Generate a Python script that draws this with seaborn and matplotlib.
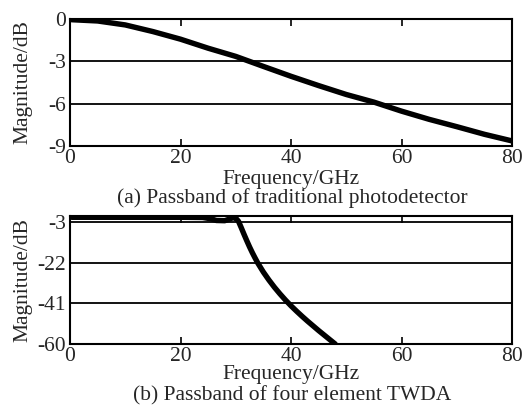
import numpy as np
import pandas as pd
import matplotlib
matplotlib.use("Agg")
import matplotlib.pyplot as plt
import seaborn as sns

# ---- data ----
freq_a = [0.3, 5, 10, 15, 20, 25, 30, 35, 40, 45, 50, 55, 60, 65, 70, 75, 80]
mag_a = [-0.05, -0.14, -0.42, -0.89, -1.43, -2.07, -2.65, -3.36, -4.06, -4.72,
         -5.35, -5.89, -6.53, -7.11, -7.63, -8.17, -8.64]

freq_b = [0.3, 5, 10, 15, 20, 24, 25.5, 26.5, 28, 29, 29.6, 30.0, 30.5, 31.0,
          31.5, 32.0, 32.5, 33.0, 33.5, 34.0, 35.0, 36.0, 37.0, 38.0, 39.0,
          40.0, 41.0, 42.0, 43.0, 44.0, 45.0, 46.0, 47.0, 48.0]
mag_b = [-0.6, -0.6, -0.6, -0.6, -0.6, -0.7, -1.3, -2.1, -2.2, -1.3, -0.7, -1.0,
         -2.5, -5.5, -8.6, -11.6, -14.5, -17.2, -19.7, -22.1, -26.3, -30.0,
         -33.4, -36.5, -39.4, -42.1, -44.6, -47.0, -49.3, -51.5, -53.7, -55.8,
         -57.9, -60.0]

xticks = [0, 20, 40, 60, 80]
yticks_a = [0, -3, -6, -9]
yticks_b = [-3, -22, -41, -60]

caption_a = "(a) Passband of traditional photodetector"
caption_b = "(b) Passband of four element TWDA"
xlabel = "Frequency/GHz"
ylabel = "Magnitude/dB"

sns.set_style("white")
plt.rcParams['font.family'] = ['Liberation Serif', 'DejaVu Serif']
FS = 15.5

fig = plt.figure(figsize=(5.27, 4.05), dpi=100)
W, H = 527, 405

def make_axes(top_px, bottom_px):
    left, right = 70, 512
    return fig.add_axes([left / W, 1 - bottom_px / H, (right - left) / W, (bottom_px - top_px) / H])

ax_a = make_axes(19, 146)
ax_b = make_axes(216, 344)

df_a = pd.DataFrame({"f": freq_a, "m": mag_a})
df_b = pd.DataFrame({"f": freq_b, "m": mag_b})

for ax, df, ylim, yt, xl_y in [
    (ax_a, df_a, (-9, 0), yticks_a, -0.26),
    (ax_b, df_b, (-60, 0), yticks_b, -0.236),
]:
    for v in yt:
        ax.axhline(v, color="black", lw=1.3, zorder=1)
    sns.lineplot(data=df, x="f", y="m", ax=ax, color="black", lw=3.9,
                 sort=False, estimator=None, zorder=3)
    ax.set_xlim(0, 80)
    ax.set_ylim(*ylim)
    ax.set_xticks(xticks)
    ax.set_xticklabels([str(t) for t in xticks], fontsize=FS)
    ax.set_yticks(yt)
    ax.set_yticklabels([str(t) for t in yt], fontsize=FS)
    ax.tick_params(axis="x", which="both", direction="in", top=True, bottom=True,
                   length=5, width=1.2, pad=2.5, color="black")
    ax.tick_params(axis="y", length=0, pad=3)
    for s in ax.spines.values():
        s.set_visible(True)
        s.set_color("black")
        s.set_linewidth(1.5)
    ax.set_xlabel(xlabel, fontsize=FS)
    ax.xaxis.set_label_coords(0.5, xl_y)
    ax.xaxis.label.set_verticalalignment("center")
    ax.set_ylabel(ylabel, fontsize=FS)
    ax.yaxis.set_label_coords((23 - 70) / 442, 0.5)
    ax.yaxis.label.set_verticalalignment("center")
    ax.grid(False)
    ax.set_facecolor("white")

fig.text(292 / W, 1 - 198 / H, caption_a, ha="center", va="center", fontsize=FS)
fig.text(292 / W, 1 - 396 / H, caption_b, ha="center", va="center", fontsize=FS)

fig.savefig("out.png", dpi=100, facecolor="white")
